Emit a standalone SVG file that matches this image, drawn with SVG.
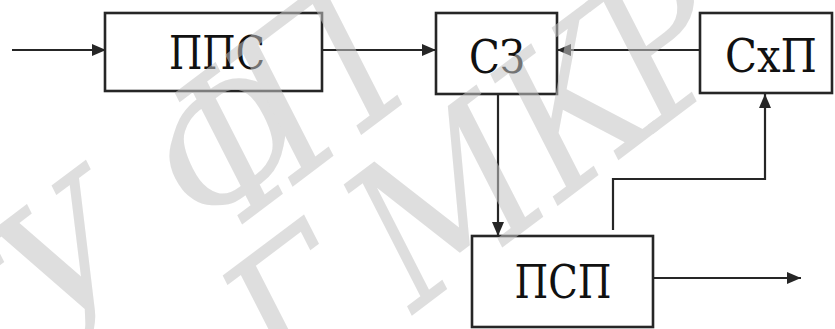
<svg xmlns="http://www.w3.org/2000/svg" width="835" height="329" viewBox="0 0 835 329">
  <style>
    .box { fill: none; stroke: #262626; stroke-width: 2.6; }
    .lbl { font-size: 46px; fill: #111; text-anchor: middle; }
    .wire { fill: none; stroke: #262626; stroke-width: 2.2; }
    .wm { font-style: italic; font-stretch: condensed; font-size: 200px; fill: #c4c4c4; opacity: 0.55; text-anchor: middle; }
  </style>
  <defs>
    <marker id="arrow" markerUnits="userSpaceOnUse" markerWidth="14" markerHeight="12" refX="14" refY="6" orient="auto">
      <path d="M0,0 L14,6 L0,12 Z" fill="#262626"/>
    </marker>
  </defs>
  <rect width="835" height="329" fill="#fff"/>

  <g id="connectors">
    <line class="wire" x1="12" y1="50" x2="106" y2="50" marker-end="url(#arrow)"/>
    <line class="wire" x1="323" y1="50" x2="436" y2="50" marker-end="url(#arrow)"/>
    <line class="wire" x1="700" y1="50" x2="557" y2="50" marker-end="url(#arrow)"/>
    <line class="wire" x1="498" y1="94" x2="498" y2="236" marker-end="url(#arrow)"/>
    <line class="wire" x1="653" y1="278" x2="801" y2="278" marker-end="url(#arrow)"/>
    <path class="wire" d="M613,230 V179 H765 V94" marker-end="url(#arrow)"/>
  </g>

  <g font-family="DejaVu Serif, Liberation Serif, serif">
    <g id="pps">
      <rect class="box" x="105" y="13" width="217" height="78"/>
      <text class="lbl" x="217" y="69" textLength="96" lengthAdjust="spacingAndGlyphs">ППС</text>
    </g>
    <g id="sz">
      <rect class="box" x="436" y="13" width="121" height="81"/>
      <text class="lbl" x="497" y="73" textLength="56" lengthAdjust="spacingAndGlyphs">СЗ</text>
    </g>
    <g id="shp">
      <rect class="box" x="700" y="13" width="132" height="80"/>
      <text class="lbl" x="771" y="72" textLength="92" lengthAdjust="spacingAndGlyphs">СхП</text>
    </g>
    <g id="psp">
      <rect class="box" x="472" y="236" width="181" height="91"/>
      <text class="lbl" x="563" y="298" textLength="97" lengthAdjust="spacingAndGlyphs">ПСП</text>
    </g>

    <!-- faint diagonal watermark over the drawing -->
    <g id="watermark">
      <text class="wm" transform="translate(73,352) rotate(-37)" x="-60 50 143 250 356 570" y="0">ГУ ФП</text>
      <text class="wm" transform="translate(292,406) rotate(-37)" x="60 155 245 405 515" y="0">Г МКР</text>
    </g>
  </g>
</svg>
